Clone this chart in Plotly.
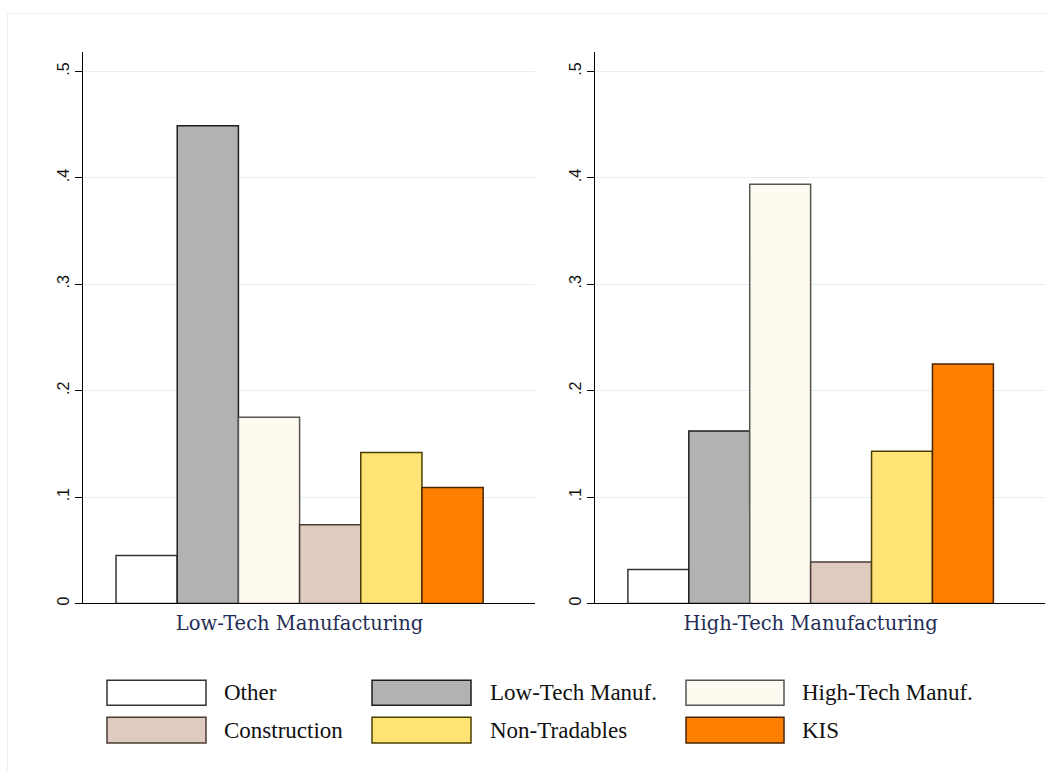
import plotly.graph_objects as go

# ---- data ----
panels = ["Low-Tech Manufacturing", "High-Tech Manufacturing"]
sectors = ["Other", "Low-Tech Manuf.", "High-Tech Manuf.", "Construction", "Non-Tradables", "KIS"]
low_tech_values = [0.045, 0.449, 0.175, 0.074, 0.142, 0.109]
high_tech_values = [0.032, 0.162, 0.394, 0.039, 0.143, 0.225]
y_tick_values = [0, 0.1, 0.2, 0.3, 0.4, 0.5]
y_tick_labels = ["0", ".1", ".2", ".3", ".4", ".5"]

# ---- styles ----
fill_colors = ["#ffffff", "#b2b2b2", "#fffaf0", "#e0cbc0", "#ffe375", "#ff8000"]
edge_colors = ["#333333", "#1e1e1e", "#555555", "#4a3c34", "#4a4000", "#4a2500"]

W, H = 1050, 772
def px(x):
    return x / W
def py(y):
    return 1 - y / H

fig = go.Figure()
panel_values = [low_tech_values, high_tech_values]
for p, (panel, vals) in enumerate(zip(panels, panel_values)):
    xa = "x" if p == 0 else "x2"
    ya = "y" if p == 0 else "y2"
    for i, s in enumerate(sectors):
        fig.add_trace(go.Bar(
            x=[panel], y=[vals[i]], name=s, legendgroup=s, showlegend=False,
            marker=dict(color=fill_colors[i], line=dict(color=edge_colors[i], width=1.5)),
            xaxis=xa, yaxis=ya,
        ))

axis_common_x = dict(
    type="category", range=[-0.472, 0.513], showgrid=False, showline=True,
    linecolor="#000000", linewidth=1.2, ticks="", zeroline=False,
    tickfont=dict(family="DejaVu Serif", size=19.5, color="#1f2d55"),
    ticklabelstandoff=2,
)
axis_common_y = dict(
    range=[0, 0.5185], tickvals=y_tick_values, ticktext=y_tick_labels,
    showgrid=True, gridcolor="#e6eff0", gridwidth=1, showline=True,
    linecolor="#000000", linewidth=1.2, ticks="outside", ticklen=7,
    tickcolor="#000000", tickangle=-90, zeroline=False,
    tickfont=dict(family="Liberation Sans", size=16, color="#111111"),
)

fig.update_layout(
    width=W, height=H, autosize=False,
    margin=dict(l=0, r=0, t=0, b=0),
    paper_bgcolor="white", plot_bgcolor="white",
    barmode="group", bargap=0.2, bargroupgap=0.0,
    showlegend=False,
    xaxis=dict(domain=[px(83), px(535)], anchor="y", **axis_common_x),
    yaxis=dict(domain=[py(605), py(52)], anchor="x", **axis_common_y),
    xaxis2=dict(domain=[px(595), px(1045)], anchor="y2", **axis_common_x),
    yaxis2=dict(domain=[py(605), py(52)], anchor="x2", **axis_common_y),
)

# faint outer frame
fig.add_shape(type="rect", xref="paper", yref="paper",
              x0=px(7.5), x1=px(1060), y0=py(790), y1=py(13.5),
              line=dict(color="#eef2f3", width=1.2), fillcolor="rgba(0,0,0,0)", layer="below")

# custom legend (wide Stata-style keys)
col_box_x = [(107, 206), (372, 471), (686, 784)]
col_text_x = [222, 488, 800]
row_box_y = [(682, 707), (719, 745)]
for i, s in enumerate(sectors):
    r, c = divmod(i, 3)
    bx0, bx1 = col_box_x[c]
    by0, by1 = row_box_y[r]
    fig.add_shape(type="rect", xref="paper", yref="paper",
                  x0=px(bx0), x1=px(bx1), y0=py(by1), y1=py(by0),
                  fillcolor=fill_colors[i], line=dict(color=edge_colors[i], width=1.5))
    fig.add_annotation(xref="paper", yref="paper", x=px(col_text_x[c]), y=py((by0 + by1) / 2),
                       text=s, showarrow=False, xanchor="left", yanchor="middle",
                       font=dict(family="Liberation Serif", size=23, color="#111111"))

fig.write_html("out.html", config={"displayModeBar": False},
               post_script="document.body.style.margin='0';")
